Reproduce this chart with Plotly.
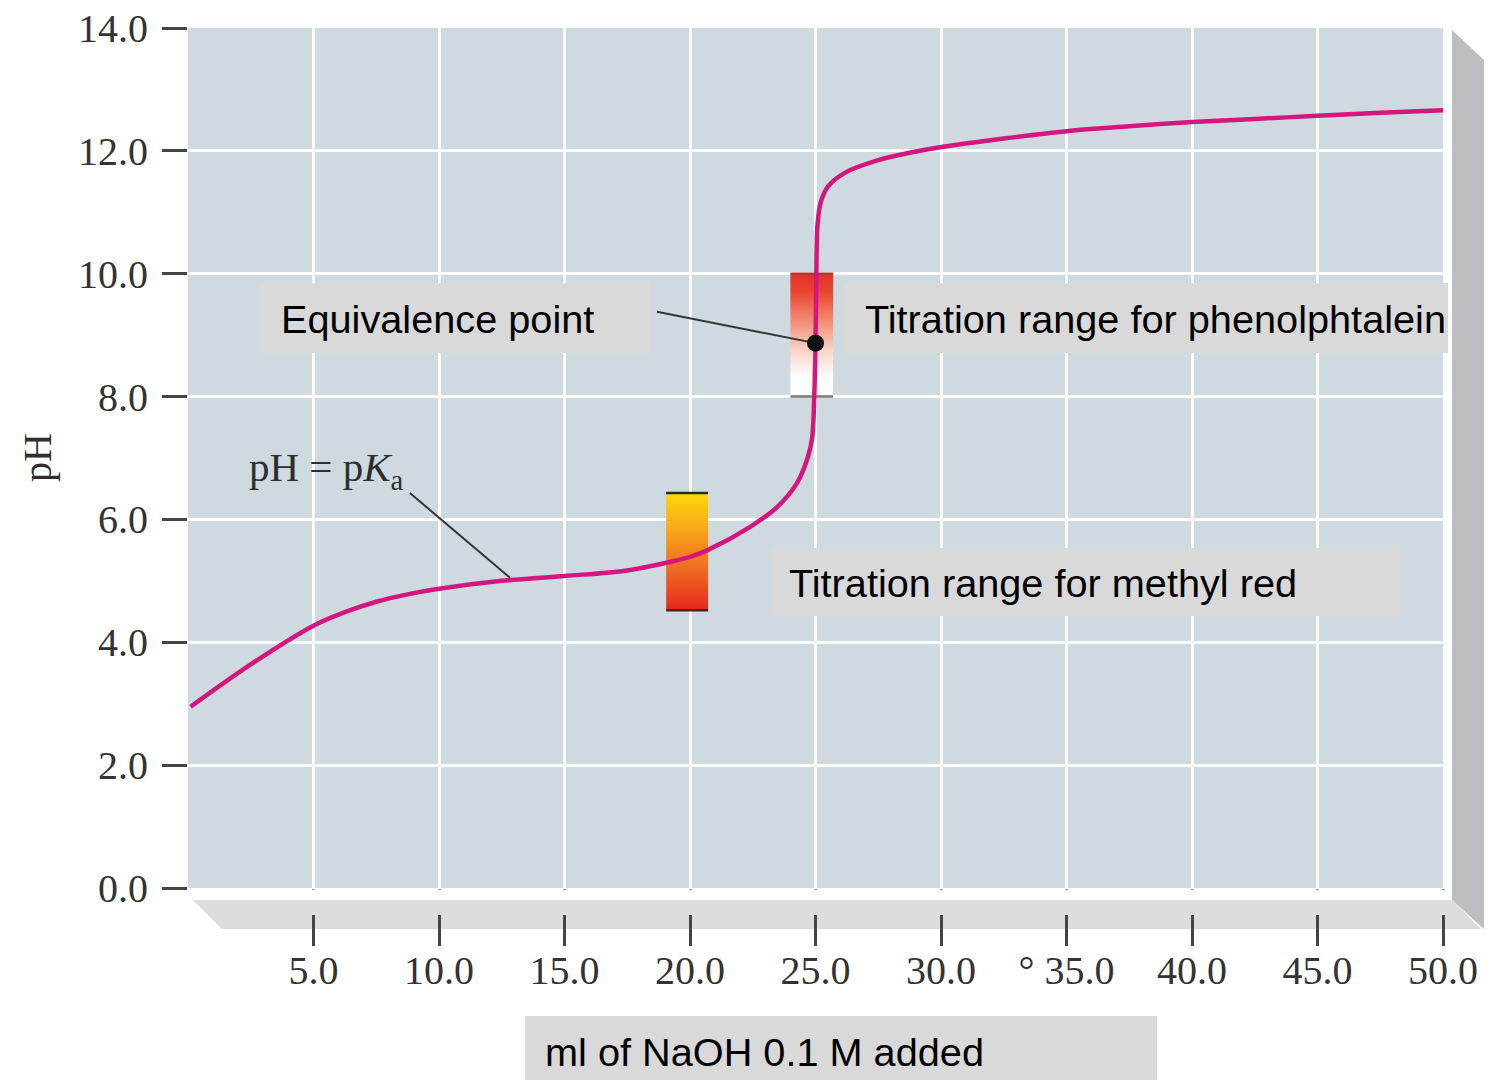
import plotly.graph_objects as go

# ---------------- data ----------------
volume_ml = [0.1, 2.5, 5.0, 6.25, 7.5, 8.75, 10.0, 12.5, 15.0, 17.5, 20.0, 20.7,
             22.4, 23.47, 24.26, 24.7, 24.87, 24.95, 25.0, 25.03, 25.08, 25.2, 25.5, 26.2,
             27.5, 29.0, 30.5, 32.5, 35.0, 37.5, 40.0, 42.5, 45.0, 47.5, 50.0]
ph_values = [2.95, 3.64, 4.27, 4.49, 4.66, 4.78, 4.87, 5.00, 5.08, 5.17, 5.39,
             5.50, 5.88, 6.20, 6.59, 7.02, 7.34, 8.00, 8.87, 9.90, 10.80, 11.15, 11.42,
             11.65, 11.85, 11.99, 12.09, 12.20, 12.32, 12.40, 12.47, 12.52, 12.57, 12.62,
             12.66]

equiv_x = [25.0]
equiv_ph = [8.87]

phenol_x = [24.0, 25.7]
phenol_ph = [8.0, 10.0]
methyl_x = [19.05, 20.72]
methyl_ph = [4.52, 6.43]

x_ticks = [5, 10, 15, 20, 25, 30, 35, 40, 45, 50]
x_tick_labels = ["5.0", "10.0", "15.0", "20.0", "25.0", "30.0", "° 35.0", "40.0", "45.0", "50.0"]
y_ticks = [0, 2, 4, 6, 8, 10, 12, 14]
y_tick_labels = ["0.0", "2.0", "4.0", "6.0", "8.0", "10.0", "12.0", "14.0"]

eq_leader_x = [18.68, 25.0]
eq_leader_ph = [9.38, 8.87]
pka_leader_x = [8.84, 12.83]
pka_leader_ph = [6.43, 5.05]

label_equiv = "Equivalence point"
label_phenol = "Titration range for phenolphtalein"
label_methyl = "Titration range for methyl red"
label_xtitle = "ml of NaOH 0.1 M added"
label_ytitle = "pH"
label_pka = "pH = p<i>K</i><sub>a</sub>"

# ---------------- layout helpers (pixel -> paper) ----------------
W, H = 1488, 1080
L, R, T, B = 188, 1443, 28, 888


def px(p):
    return (p - L) / (R - L)


def py(p):
    return (B - p) / (B - T)


SERIF = "Liberation Serif, Times New Roman, serif"
SANS = "Liberation Sans, Arial, Helvetica, sans-serif"
BOX = "#d9d9d9"

fig = go.Figure()

# indicator range bars (vertical gradients)
fig.add_trace(go.Scatter(
    x=[phenol_x[0], phenol_x[1], phenol_x[1], phenol_x[0], phenol_x[0]],
    y=[phenol_ph[0], phenol_ph[0], phenol_ph[1], phenol_ph[1], phenol_ph[0]],
    mode="lines", line=dict(width=0), fill="toself",
    fillgradient=dict(type="vertical", start=phenol_ph[0], stop=phenol_ph[1],
                      colorscale=[[0, "#ffffff"], [0.15, "#ffffff"], [0.38, "#fbd3c6"],
                                  [0.62, "#f28b72"], [0.85, "#e9452f"], [1, "#e3302a"]]),
    hoverinfo="skip", showlegend=False))
fig.add_trace(go.Scatter(
    x=[methyl_x[0], methyl_x[1], methyl_x[1], methyl_x[0], methyl_x[0]],
    y=[methyl_ph[0], methyl_ph[0], methyl_ph[1], methyl_ph[1], methyl_ph[0]],
    mode="lines", line=dict(width=0), fill="toself",
    fillgradient=dict(type="vertical", start=methyl_ph[0], stop=methyl_ph[1],
                      colorscale=[[0, "#e5281e"], [0.35, "#f06a22"], [0.68, "#f7a51a"],
                                  [1, "#ffd80a"]]),
    hoverinfo="skip", showlegend=False))
# bar edges
for xs, yv, col in [(phenol_x, phenol_ph[1], "#b8322a"), (phenol_x, phenol_ph[0], "#7a7a7a"),
                    (methyl_x, methyl_ph[1], "#2a2a2a"), (methyl_x, methyl_ph[0], "#3a2a2a")]:
    fig.add_trace(go.Scatter(x=xs, y=[yv, yv], mode="lines",
                             line=dict(color=col, width=2.5),
                             hoverinfo="skip", showlegend=False))

# leader lines
fig.add_trace(go.Scatter(x=eq_leader_x, y=eq_leader_ph, mode="lines",
                         line=dict(color="#333333", width=2), showlegend=False))
fig.add_trace(go.Scatter(x=pka_leader_x, y=pka_leader_ph, mode="lines",
                         line=dict(color="#333333", width=2), showlegend=False))

# titration curve
fig.add_trace(go.Scatter(x=volume_ml, y=ph_values, mode="lines",
                         line=dict(color="#d4167f", width=4.5, shape="spline", smoothing=0.9),
                         showlegend=False))

# equivalence point
fig.add_trace(go.Scatter(x=equiv_x, y=equiv_ph, mode="markers",
                         marker=dict(color="#111111", size=17), showlegend=False))

shapes = []
# bevel: right face
shapes.append(dict(type="path", xref="paper", yref="paper", layer="below",
                   path=f"M {px(1452)} {py(30)} L {px(1484)} {py(60)} L {px(1484)} {py(929)} "
                        f"L {px(1452)} {py(900)} Z",
                   fillcolor="#bcbec1", line=dict(width=0)))
# bevel: bottom face
shapes.append(dict(type="path", xref="paper", yref="paper", layer="below",
                   path=f"M {px(193)} {py(900)} L {px(1452)} {py(900)} L {px(1481)} {py(929)} "
                        f"L {px(222)} {py(929)} Z",
                   fillcolor="#dcdde0", line=dict(width=0)))
# cover upper part of x tick marks (ticks start inside the bevel)
shapes.append(dict(type="rect", xref="paper", yref="paper", layer="above",
                   x0=px(189), x1=px(1452), y0=py(900), y1=py(889.6),
                   fillcolor="#ffffff", line=dict(width=0)))
shapes.append(dict(type="path", xref="paper", yref="paper", layer="above",
                   path=f"M {px(193)} {py(900)} L {px(1452)} {py(900)} L {px(1467)} {py(915)} "
                        f"L {px(208)} {py(915)} Z",
                   fillcolor="#dcdde0", line=dict(width=0)))
# text boxes
for x0, x1, y0, y1 in [(260, 650, 283, 353), (843, 1448, 283, 353),
                       (770, 1400, 548, 616), (525, 1157, 1016, 1080)]:
    shapes.append(dict(type="rect", xref="paper", yref="paper", layer="above",
                       x0=px(x0), x1=px(x1), y0=py(y1), y1=py(y0),
                       fillcolor=BOX, line=dict(width=0)))

annotations = []
for txt, x, y in [(label_equiv, 279, 319), (label_phenol, 863, 319),
                  (label_methyl, 787, 583), (label_xtitle, 543, 1052)]:
    annotations.append(dict(text=txt, xref="paper", yref="paper", x=px(x), y=py(y),
                            xanchor="left", yanchor="middle", showarrow=False,
                            font=dict(family=SANS, size=39.7, color="#000000")))
annotations.append(dict(text=label_pka, xref="x", yref="y", x=2.35, y=6.8,
                        xanchor="left", yanchor="middle", showarrow=False,
                        font=dict(family=SERIF, size=41, color="#2e2e2e")))
annotations.append(dict(text=label_ytitle, xref="paper", yref="paper", x=px(37), y=py(458),
                        xanchor="center", yanchor="middle", textangle=-90, showarrow=False,
                        font=dict(family=SERIF, size=40, color="#2e2e2e")))

fig.update_layout(
    template="none",
    width=W, height=H,
    margin=dict(l=L, r=W - R, t=T, b=H - B, pad=0, autoexpand=False),
    paper_bgcolor="#ffffff", plot_bgcolor="#cfd9e0",
    shapes=shapes, annotations=annotations, showlegend=False,
    xaxis=dict(range=[0, 50], tickvals=x_ticks, ticktext=x_tick_labels, automargin=False,
               showgrid=True, gridcolor="#ffffff", gridwidth=3, zeroline=False,
               showline=False, ticks="outside", ticklen=57, tickwidth=2.5,
               tickcolor="#444444", ticklabelstandoff=-10,
               tickfont=dict(family=SERIF, size=40, color="#333333")),
    yaxis=dict(range=[0, 14], tickvals=y_ticks, ticktext=y_tick_labels, automargin=False,
               showgrid=True, gridcolor="#ffffff", gridwidth=3, zeroline=False,
               showline=False, ticks="outside", ticklen=25, tickwidth=2.5,
               tickcolor="#444444", ticklabelstandoff=6,
               tickfont=dict(family=SERIF, size=40, color="#333333")),
)

fig.write_html("out.html", config={"displayModeBar": False},
               post_script="document.body.style.margin='0';")
